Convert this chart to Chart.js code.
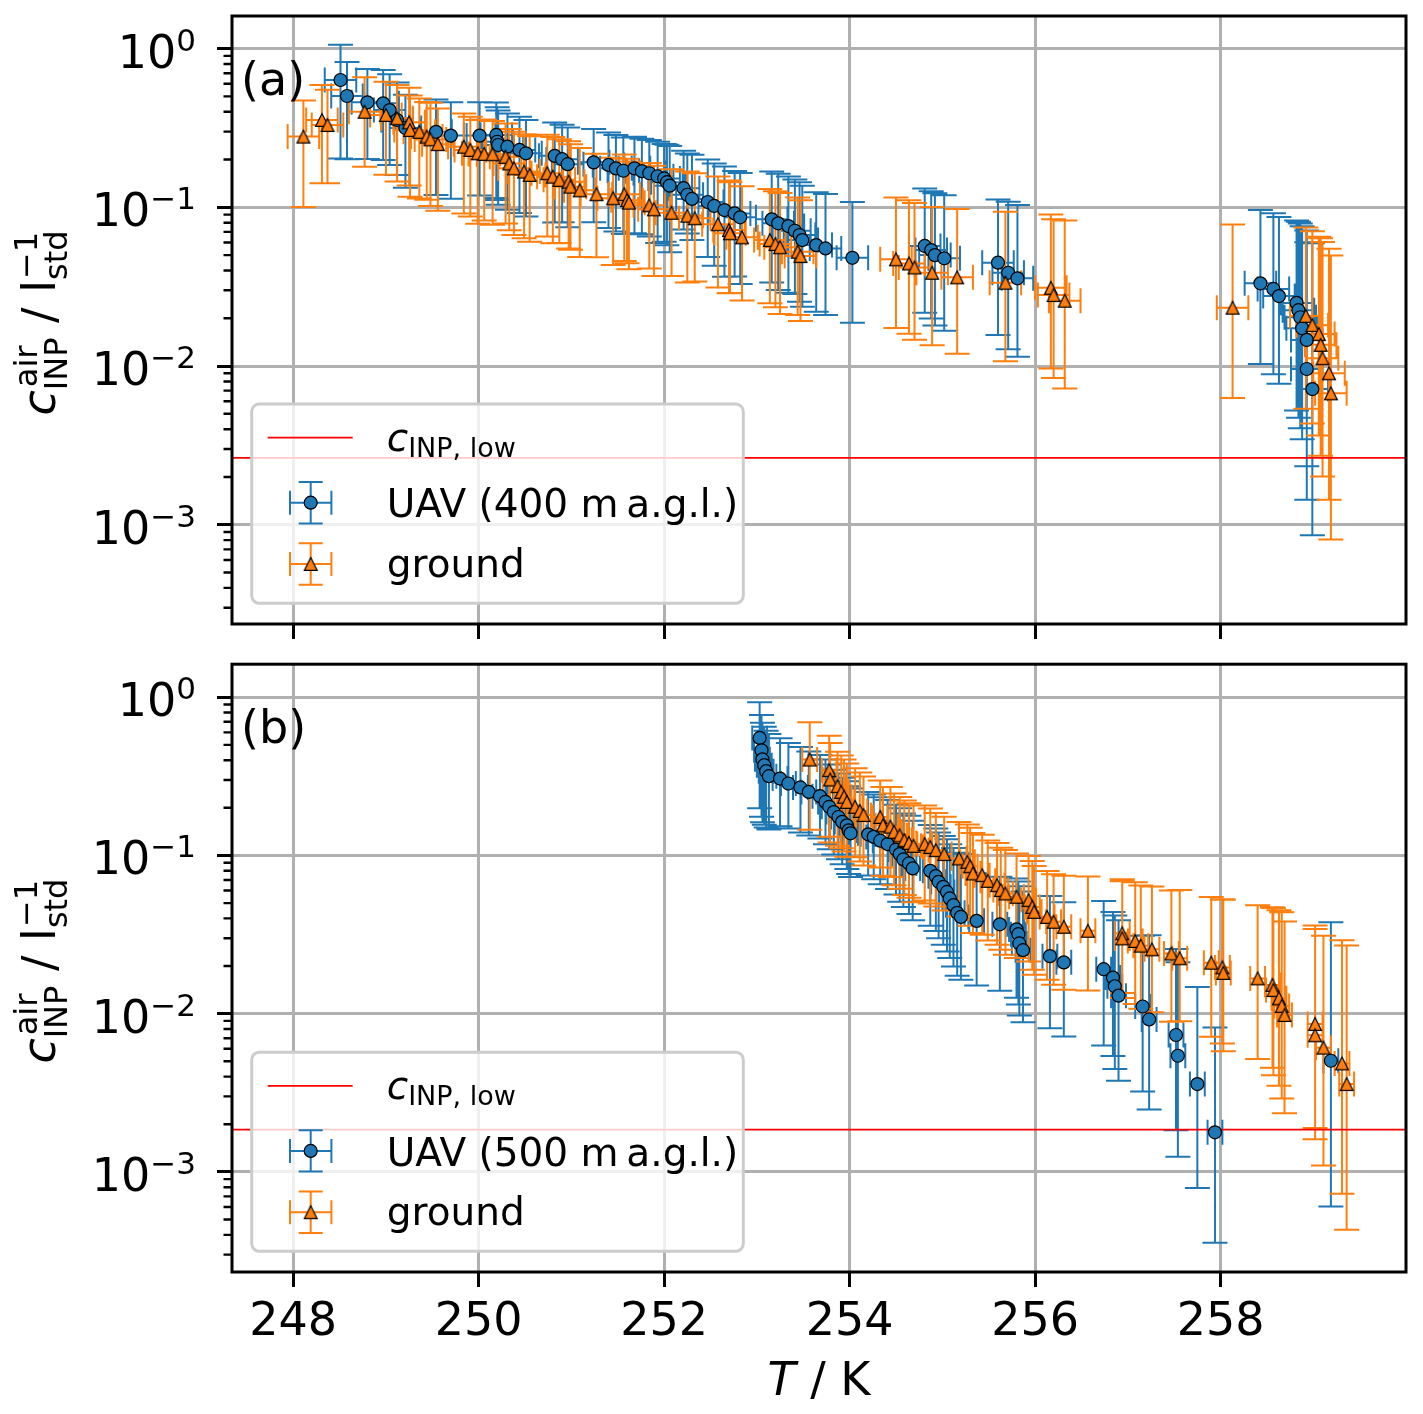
<!DOCTYPE html>
<html>
<head>
<meta charset="utf-8">
<title>INP concentration vs temperature</title>
<script src="https://cdn.jsdelivr.net/npm/chart.js@4.4.1/dist/chart.umd.min.js"></script>
<style>
html,body{margin:0;padding:0;background:#fff;}
#wrap{position:relative;width:1423px;height:1414px;overflow:hidden;background:#fff;}
#cA{position:absolute;left:0;top:0;}
#cB{position:absolute;left:0;top:656px;}
</style>
</head>
<body>
<div id="wrap">
<canvas id="cA" width="1423" height="660"></canvas>
<canvas id="cB" width="1423" height="758"></canvas>
</div>
<script>
// ---------------- axis ticks ----------------
const xTicks = [248, 250, 252, 254, 256, 258];
const yTicks = [1e-3, 1e-2, 1e-1, 1];
const yTickExp = ['\u22123', '\u22122', '\u22121', '0'];

// ---------------- panel (a) : UAV 400 m ----------------
const uavA_T = [
248.51,248.58,248.80,248.97,249.04,249.12,249.21,249.54,249.70,250.01,
250.19,250.20,250.21,250.31,250.44,250.51,250.82,250.90,250.96,251.24,
251.40,251.48,251.56,251.68,251.76,251.84,251.93,252.00,252.03,252.06,
252.21,252.25,252.30,252.47,252.54,252.65,252.76,252.82,253.16,253.23,
253.34,253.41,253.46,253.49,253.64,253.74,254.03,254.81,254.88,254.92,
255.02,255.60,255.71,255.81,258.43,258.57,258.63,258.82,258.84,258.86,
258.88,258.93,258.93,258.99];
const uavA_c = [
0.634,0.503,0.459,0.452,0.410,0.355,0.316,0.299,0.283,0.283,
0.286,0.259,0.247,0.241,0.230,0.219,0.211,0.201,0.187,0.192,
0.185,0.176,0.170,0.176,0.169,0.164,0.157,0.152,0.144,0.137,
0.132,0.120,0.113,0.108,0.102,0.0961,0.0916,0.0865,0.0840,0.0793,
0.0762,0.0712,0.0669,0.0622,0.0578,0.0551,0.0481,0.0571,0.0538,0.0500,
0.0477,0.0448,0.0387,0.0357,0.0332,0.0306,0.0276,0.0250,0.0225,0.0203,
0.0173,0.0146,0.00958,0.00716];
const uavA_lo = [
0.68,0.60,0.56,0.56,0.55,0.55,0.58,0.60,0.60,0.58,
0.60,0.57,0.58,0.60,0.60,0.60,0.62,0.60,0.60,0.58,
0.60,0.60,0.60,0.61,0.60,0.60,0.62,0.60,0.60,0.62,
0.45,0.43,0.45,0.55,0.58,0.62,0.60,0.62,0.60,0.62,
0.62,0.60,0.62,0.62,0.62,0.62,0.61,0.62,0.63,0.64,
0.65,0.65,0.67,0.68,0.69,0.71,0.72,0.79,0.79,0.80,
0.80,0.84,0.85,0.88];
const uavA_hi = [
0.67,0.64,0.62,0.62,0.68,0.72,0.62,0.60,0.62,0.62,
0.60,0.65,0.65,0.62,0.62,0.62,0.62,0.65,0.70,0.62,
0.60,0.62,0.62,0.58,0.60,0.62,0.65,0.65,0.72,0.78,
0.72,0.82,0.90,0.85,0.85,0.88,0.85,0.90,1.00,1.05,
1.05,1.10,1.15,1.20,1.15,1.20,1.25,1.30,1.35,1.45,
1.50,1.50,1.80,1.90,1.90,2.00,2.15,2.30,2.60,2.90,
3.40,3.90,5.30,7.30];
const uavA_dT = 0.17;

// ---------------- panel (a) : ground ----------------
const gndA_T = [
248.11,248.31,248.37,248.77,249.00,249.12,249.25,249.26,249.36,249.44,
249.48,249.56,249.84,249.91,249.99,250.06,250.15,250.29,250.33,250.38,
250.49,250.55,250.74,250.80,250.87,250.97,250.99,251.09,251.27,251.45,
251.57,251.60,251.62,251.84,251.89,252.08,252.25,252.33,252.58,252.70,
252.71,252.84,253.14,253.20,253.25,253.44,253.47,254.50,254.64,254.70,
254.89,255.16,255.68,256.17,256.20,256.32,258.13,258.92,258.99,259.06,
259.08,259.10,259.17,259.19];
const gndA_c = [
0.279,0.355,0.330,0.400,0.382,0.364,0.343,0.307,0.299,0.279,
0.268,0.250,0.241,0.230,0.219,0.217,0.216,0.208,0.189,0.176,
0.168,0.160,0.164,0.156,0.149,0.145,0.135,0.128,0.121,0.114,
0.121,0.111,0.107,0.103,0.0971,0.0924,0.0885,0.0853,0.0782,0.0720,
0.0686,0.0647,0.0622,0.0587,0.0560,0.0525,0.0493,0.0470,0.0443,0.0418,
0.0387,0.0362,0.0335,0.0311,0.0280,0.0258,0.0233,0.0207,0.0181,0.0159,
0.0136,0.0112,0.0090,0.00673];
const gndA_lo = [
0.64,0.60,0.57,0.55,0.58,0.60,0.60,0.62,0.62,0.60,
0.62,0.62,0.62,0.62,0.64,0.62,0.64,0.62,0.62,0.62,
0.62,0.62,0.60,0.62,0.60,0.62,0.60,0.62,0.60,0.62,
0.62,0.60,0.62,0.60,0.62,0.60,0.62,0.60,0.60,0.60,
0.58,0.60,0.60,0.60,0.62,0.60,0.61,0.63,0.64,0.65,
0.65,0.67,0.68,0.69,0.70,0.72,0.73,0.74,0.76,0.77,
0.80,0.82,0.84,0.88];
const gndA_hi = [
0.69,0.66,0.67,0.65,0.62,0.62,0.65,0.65,0.62,0.65,
0.70,0.68,0.62,0.62,0.62,0.65,0.62,0.62,0.65,0.70,
0.72,0.75,0.75,0.78,0.80,0.80,0.85,0.85,0.80,0.80,
0.78,0.82,0.82,0.85,0.88,0.88,0.90,0.92,1.00,1.05,
1.10,1.10,1.10,1.15,1.20,1.20,1.25,1.45,1.50,1.55,
1.60,1.70,1.80,1.90,2.00,2.20,2.35,2.60,2.90,3.10,
3.70,4.40,5.10,6.40];
const gndA_dT = 0.17;
const cLowA = 0.00264;

// ---------------- panel (b) : UAV 500 m ----------------
const uavB_T = [
253.03,253.05,253.06,253.08,253.10,253.13,253.25,253.34,253.47,253.56,
253.68,253.74,253.78,253.83,253.88,253.92,253.97,253.99,254.01,254.20,
254.26,254.33,254.41,254.50,254.54,254.58,254.64,254.68,254.87,254.93,
254.96,255.01,255.05,255.08,255.12,255.16,255.20,255.37,255.62,255.80,
255.82,255.83,255.87,256.16,256.31,256.74,256.84,256.86,256.90,257.16,
257.23,257.52,257.54,257.75,257.94,259.19];
const uavB_c = [
0.553,0.462,0.405,0.372,0.341,0.317,0.306,0.285,0.269,0.252,
0.237,0.218,0.203,0.188,0.175,0.163,0.155,0.144,0.138,0.136,
0.131,0.124,0.118,0.109,0.102,0.0944,0.0890,0.0828,0.0799,0.0740,
0.0681,0.0633,0.0588,0.0535,0.0485,0.0434,0.0409,0.0386,0.0367,0.0341,
0.0318,0.0278,0.0252,0.0231,0.0211,0.0191,0.0169,0.0149,0.0130,0.0111,
0.0092,0.00733,0.00542,0.00359,0.00178,0.00504];
const uavB_lo = [
0.64,0.62,0.60,0.58,0.56,0.54,0.50,0.48,0.48,0.47,
0.46,0.46,0.46,0.46,0.46,0.46,0.47,0.47,0.47,0.45,
0.46,0.47,0.48,0.48,0.50,0.50,0.52,0.53,0.55,0.55,
0.56,0.57,0.58,0.58,0.59,0.60,0.60,0.61,0.62,0.63,
0.64,0.65,0.65,0.65,0.66,0.67,0.68,0.70,0.71,0.71,
0.73,0.75,0.77,0.78,0.80,0.88];
const uavB_hi = [
0.68,0.67,0.70,0.75,0.80,0.85,0.80,0.80,0.80,0.80,
0.82,0.85,0.85,0.85,0.88,0.90,0.90,0.90,0.92,0.85,
0.85,0.88,0.90,0.92,0.95,0.95,1.00,1.00,0.95,1.00,
1.05,1.10,1.15,1.20,1.30,1.40,1.50,1.00,1.00,1.10,
1.15,1.30,1.35,1.40,1.40,1.70,1.60,1.80,2.00,1.80,
2.40,2.50,2.90,3.10,3.60,6.50];
const uavB_dT = 0.08;

// ---------------- panel (b) : ground ----------------
const gndB_T = [
253.57,253.78,253.79,253.87,253.91,253.94,253.97,254.06,254.11,254.15,
254.33,254.36,254.44,254.48,254.54,254.59,254.64,254.69,254.81,254.87,
254.93,255.02,255.18,255.27,255.30,255.33,255.43,255.49,255.59,255.63,
255.68,255.80,255.93,255.97,255.99,256.13,256.20,256.31,256.57,256.94,
256.94,257.08,257.14,257.26,257.47,257.56,257.90,258.02,258.03,258.40,
258.56,258.57,258.63,258.66,258.69,259.02,259.02,259.11,259.31,259.36];
const gndB_c = [
0.404,0.346,0.302,0.274,0.252,0.235,0.218,0.203,0.191,0.180,
0.175,0.155,0.152,0.141,0.134,0.125,0.120,0.115,0.118,0.113,
0.108,0.102,0.0957,0.0911,0.0855,0.0769,0.0751,0.0691,0.0649,0.0604,
0.0575,0.0548,0.0522,0.0473,0.0440,0.0409,0.0381,0.0354,0.0334,0.0322,
0.0299,0.0288,0.0269,0.0255,0.0240,0.0224,0.0210,0.0196,0.0181,0.0167,
0.0152,0.0141,0.0125,0.0112,0.0098,0.0086,0.0073,0.0061,0.00485,0.00359];
const gndB_lo = [
0.64,0.62,0.60,0.58,0.56,0.55,0.55,0.52,0.52,0.52,
0.52,0.52,0.52,0.54,0.54,0.55,0.55,0.56,0.56,0.56,
0.56,0.56,0.57,0.57,0.58,0.58,0.58,0.58,0.58,0.58,
0.59,0.59,0.59,0.60,0.60,0.60,0.60,0.60,0.58,0.58,
0.58,0.60,0.60,0.60,0.63,0.60,0.66,0.67,0.68,0.69,
0.70,0.71,0.72,0.74,0.76,0.78,0.78,0.82,0.85,0.88];
const gndB_hi = [
0.72,0.65,0.70,0.65,0.70,0.72,0.75,0.75,0.75,0.75,
0.70,0.75,0.78,0.75,0.75,0.78,0.78,0.80,0.75,0.75,
0.72,0.72,0.70,0.72,0.75,0.80,0.80,0.80,0.85,0.85,
0.88,0.88,0.90,0.95,0.95,0.95,1.00,1.10,1.20,1.20,
1.30,1.35,1.40,1.50,1.50,1.70,1.60,1.70,1.90,1.90,
2.10,2.30,2.60,2.90,2.90,3.20,3.70,4.10,5.00,6.50];
const gndB_dT = 0.08;
const cLowB = 0.00185;

// ---------------- styling ----------------
const FAM = '"DejaVu Sans", sans-serif';
const C0 = '#1f77b4', C1 = '#ff7f0e';
const CAP = 12.5;
const X_MIN = 247.34, X_MAX = 260.0;
const LEG_FONT = 39, LEG_SUB = 27;

function triangleImage() {
  const c = document.createElement('canvas');
  c.width = 18; c.height = 18;
  const g = c.getContext('2d');
  const m = 9, h = 6.4;
  g.beginPath();
  g.moveTo(m, m - h); g.lineTo(m - h, m + h); g.lineTo(m + h, m + h); g.closePath();
  g.fillStyle = C1; g.fill();
  g.lineWidth = 1.2; g.strokeStyle = '#000'; g.lineJoin = 'miter'; g.stroke();
  return c;
}
const TRI = triangleImage();

function pts(T, c, lo, hi, dT) {
  return T.map((t, i) => ({ x: t, y: c[i], lo: lo[i], hi: hi[i], dx: dT }));
}

// ---------------- text helpers ----------------
function segWidth(ctx, s) {
  ctx.font = s.f;
  if (s.t !== undefined) return ctx.measureText(s.t).width;
  const a = s.sup ? ctx.measureText(s.sup).width + (s.supDx || 0) : 0;
  const b = s.sub ? ctx.measureText(s.sub).width : 0;
  return Math.max(a, b);
}
function drawSegs(ctx, segs, x, y, align) {
  let w = 0;
  for (const s of segs) w += segWidth(ctx, s);
  let cx = align === 'center' ? x - w / 2 : (align === 'right' ? x - w : x);
  ctx.textAlign = 'left'; ctx.textBaseline = 'alphabetic'; ctx.fillStyle = '#000';
  for (const s of segs) {
    const sw = segWidth(ctx, s);
    ctx.font = s.f;
    if (s.t !== undefined) ctx.fillText(s.t, cx, y);
    else {
      if (s.sup) ctx.fillText(s.sup, cx + (s.supDx || 0), y - s.up);
      if (s.sub) ctx.fillText(s.sub, cx, y + s.down);
    }
    cx += sw;
  }
  return w;
}

function drawErrHandle(ctx, cx, cy, color) {
  const r = 20.7, cap = 12;
  ctx.strokeStyle = color; ctx.lineWidth = 2;
  ctx.beginPath();
  ctx.moveTo(cx, cy - r); ctx.lineTo(cx, cy + r);
  ctx.moveTo(cx - r, cy); ctx.lineTo(cx + r, cy);
  ctx.moveTo(cx - cap, cy - r); ctx.lineTo(cx + cap, cy - r);
  ctx.moveTo(cx - cap, cy + r); ctx.lineTo(cx + cap, cy + r);
  ctx.moveTo(cx - r, cy - cap); ctx.lineTo(cx - r, cy + cap);
  ctx.moveTo(cx + r, cy - cap); ctx.lineTo(cx + r, cy + cap);
  ctx.stroke();
}

// ---------------- plugins ----------------
const errorBarPlugin = {
  id: 'errorBars',
  beforeDatasetsDraw(chart) {
    const { ctx, chartArea: a, scales: { x, y } } = chart;
    ctx.save();
    ctx.beginPath(); ctx.rect(a.left, a.top, a.width, a.height); ctx.clip();
    ctx.lineWidth = 2; ctx.lineCap = 'butt';
    const sets = chart.data.datasets.filter(d => d.errColor).sort((p, q) => p.errOrder - q.errOrder);
    for (const ds of sets) {
      ctx.strokeStyle = ds.errColor;
      ctx.beginPath();
      for (const p of ds.data) {
        const px = x.getPixelForValue(p.x), py = y.getPixelForValue(p.y);
        const yl = y.getPixelForValue(p.y * (1 - p.lo)), yh = y.getPixelForValue(p.y * (1 + p.hi));
        const xl = x.getPixelForValue(p.x - p.dx), xh = x.getPixelForValue(p.x + p.dx);
        ctx.moveTo(px, yl); ctx.lineTo(px, yh);
        ctx.moveTo(xl, py); ctx.lineTo(xh, py);
        ctx.moveTo(px - CAP, yl); ctx.lineTo(px + CAP, yl);
        ctx.moveTo(px - CAP, yh); ctx.lineTo(px + CAP, yh);
        ctx.moveTo(xl, py - CAP); ctx.lineTo(xl, py + CAP);
        ctx.moveTo(xh, py - CAP); ctx.lineTo(xh, py + CAP);
      }
      ctx.stroke();
    }
    ctx.restore();
  }
};

const decorPlugin = {
  id: 'decor',
  afterDatasetsDraw(chart, args, o) {
    const { ctx, chartArea: a, scales: { y } } = chart;
    ctx.save();
    // frame
    ctx.strokeStyle = '#000'; ctx.lineWidth = 3;
    ctx.strokeRect(a.left, a.top, a.width, a.height);
    // minor log ticks
    ctx.lineWidth = 2.4;
    ctx.beginPath();
    for (let d = -4; d <= 0; d++) {
      for (let k = 2; k <= 9; k++) {
        const v = k * Math.pow(10, d);
        if (v < y.min || v > y.max) continue;
        const py = y.getPixelForValue(v);
        ctx.moveTo(a.left - 8.5, py); ctx.lineTo(a.left, py);
      }
    }
    ctx.stroke();
    // y tick labels 10^n
    yTicks.forEach((v, i) => {
      const py = y.getPixelForValue(v);
      drawSegs(ctx, [
        { t: '10', f: '46px ' + FAM },
        { sup: yTickExp[i], f: '31px ' + FAM, up: 17 }
      ], 196, py + 19, 'right');
    });
    // y axis title
    ctx.save();
    ctx.translate(55, (a.top + a.bottom) / 2 + 3);
    ctx.rotate(-Math.PI / 2);
    drawSegs(ctx, [
      { t: 'c', f: 'italic 46px ' + FAM },
      { sup: 'air', sub: 'INP', f: '32px ' + FAM, up: 18, down: 12, supDx: 3 },
      { t: ' / ', f: '46px ' + FAM },
      { t: 'l', f: '46px ' + FAM },
      { sup: '\u22121', sub: 'std', f: '32px ' + FAM, up: 18, down: 12, supDx: 1 }
    ], 0, 0, 'center');
    ctx.restore();
    // panel label
    ctx.font = '46px ' + FAM; ctx.fillStyle = '#000'; ctx.textAlign = 'left'; ctx.textBaseline = 'alphabetic';
    ctx.fillText(o.panel, a.left + 9, a.top + 79);
    // x axis title
    if (o.xTitle) {
      drawSegs(ctx, [
        { t: 'T', f: 'italic 46px ' + FAM },
        { t: ' / K', f: '46px ' + FAM }
      ], (a.left + a.right) / 2, a.bottom + 123, 'center');
    }
    // legend
    const L = a.left + 19.7, T = a.top + 388, R = a.left + 511.3, B = a.bottom - 20.7;
    const rad = 7.5;
    ctx.beginPath();
    ctx.moveTo(L + rad, T); ctx.lineTo(R - rad, T); ctx.arcTo(R, T, R, T + rad, rad);
    ctx.lineTo(R, B - rad); ctx.arcTo(R, B, R - rad, B, rad);
    ctx.lineTo(L + rad, B); ctx.arcTo(L, B, L, B - rad, rad);
    ctx.lineTo(L, T + rad); ctx.arcTo(L, T, L + rad, T, rad);
    ctx.closePath();
    ctx.fillStyle = 'rgba(255,255,255,0.8)'; ctx.fill();
    ctx.strokeStyle = '#cccccc'; ctx.lineWidth = 3; ctx.stroke();
    // entry 1: red line
    ctx.strokeStyle = '#ff0000'; ctx.lineWidth = 1.7;
    ctx.beginPath(); ctx.moveTo(L + 16, T + 33.7); ctx.lineTo(L + 101, T + 33.7); ctx.stroke();
    drawSegs(ctx, [
      { t: 'c', f: 'italic ' + LEG_FONT + 'px ' + FAM },
      { sub: 'INP, low', f: LEG_SUB + 'px ' + FAM, down: 6 }
    ], L + 135, T + 47, 'left');
    // entry 2: UAV
    drawErrHandle(ctx, L + 59, T + 98.7, C0);
    ctx.beginPath(); ctx.arc(L + 59, T + 98.7, 6.5, 0, Math.PI * 2);
    ctx.fillStyle = C0; ctx.fill(); ctx.lineWidth = 1.2; ctx.strokeStyle = '#000'; ctx.stroke();
    ctx.font = LEG_FONT + 'px ' + FAM; ctx.fillStyle = '#000'; ctx.textAlign = 'left'; ctx.textBaseline = 'alphabetic';
    ctx.fillText(o.uavLabel, L + 135, T + 113.3);
    // entry 3: ground
    drawErrHandle(ctx, L + 59, T + 160, C1);
    ctx.drawImage(TRI, L + 59 - 9, T + 160 - 9);
    ctx.font = LEG_FONT + 'px ' + FAM; ctx.fillStyle = '#000';
    ctx.fillText('ground', L + 135, T + 172.7);
    ctx.restore();
  }
};

// ---------------- chart builder ----------------
function build(id, o) {
  const gridOpts = { color: '#b0b0b0', lineWidth: 3, tickColor: '#000', tickWidth: 3, tickLength: 15, drawTicks: true };
  return new Chart(document.getElementById(id), {
    type: 'scatter',
    data: {
      datasets: [
        { label: 'ground', data: o.gnd, pointStyle: TRI, pointRadius: 7, pointHoverRadius: 7,
          backgroundColor: C1, borderColor: '#000', borderWidth: 1.2, order: 1, errColor: C1, errOrder: 2 },
        { label: o.uavLabel, data: o.uav, pointStyle: 'circle', pointRadius: 6.5, pointHoverRadius: 6.5,
          backgroundColor: C0, borderColor: '#000', borderWidth: 1.2, order: 2, errColor: C0, errOrder: 1 },
        { type: 'line', label: 'c_INP,low', data: [{ x: X_MIN, y: o.cLow }, { x: X_MAX, y: o.cLow }],
          borderColor: '#ff0000', borderWidth: 1.7, pointRadius: 0, fill: false, tension: 0, order: 3 }
      ]
    },
    options: {
      responsive: false, animation: false, events: [],
      layout: { padding: { left: 0, right: 17, top: o.padTop, bottom: 0 } },
      plugins: { legend: { display: false }, tooltip: { enabled: false }, title: { display: false },
                 decor: { panel: o.panel, uavLabel: o.uavLabel, xTitle: o.xTitle } },
      scales: {
        x: {
          type: 'linear', position: 'bottom', min: X_MIN, max: X_MAX,
          afterBuildTicks: ax => { ax.ticks = xTicks.map(v => ({ value: v })); },
          afterFit: ax => { ax.height = o.xAxisH; },
          grid: gridOpts, border: { display: false },
          ticks: { display: o.xTitle, font: { family: 'DejaVu Sans', size: 46 }, color: '#000',
                   padding: 8, maxRotation: 0, autoSkip: false, callback: v => String(v) }
        },
        y: {
          type: 'logarithmic', position: 'left', min: o.yMin, max: o.yMax,
          afterBuildTicks: ax => { ax.ticks = yTicks.map(v => ({ value: v })); },
          afterFit: ax => { ax.width = 232; },
          grid: gridOpts, border: { display: false },
          ticks: { display: false }
        }
      }
    },
    plugins: [errorBarPlugin, decorPlugin]
  });
}

build('cA', {
  panel: '(a)', uavLabel: 'UAV (400 m\u2009a.g.l.)', xTitle: false,
  uav: pts(uavA_T, uavA_c, uavA_lo, uavA_hi, uavA_dT),
  gnd: pts(gndA_T, gndA_c, gndA_lo, gndA_hi, gndA_dT),
  cLow: cLowA, yMin: 2.37e-4, yMax: 1.605, padTop: 16, xAxisH: 36
});
build('cB', {
  panel: '(b)', uavLabel: 'UAV (500 m\u2009a.g.l.)', xTitle: true,
  uav: pts(uavB_T, uavB_c, uavB_lo, uavB_hi, uavB_dT),
  gnd: pts(gndB_T, gndB_c, gndB_lo, gndB_hi, gndB_dT),
  cLow: cLowB, yMin: 2.33e-4, yMax: 1.617, padTop: 4, xAxisH: 142
});
</script>
</body>
</html>
